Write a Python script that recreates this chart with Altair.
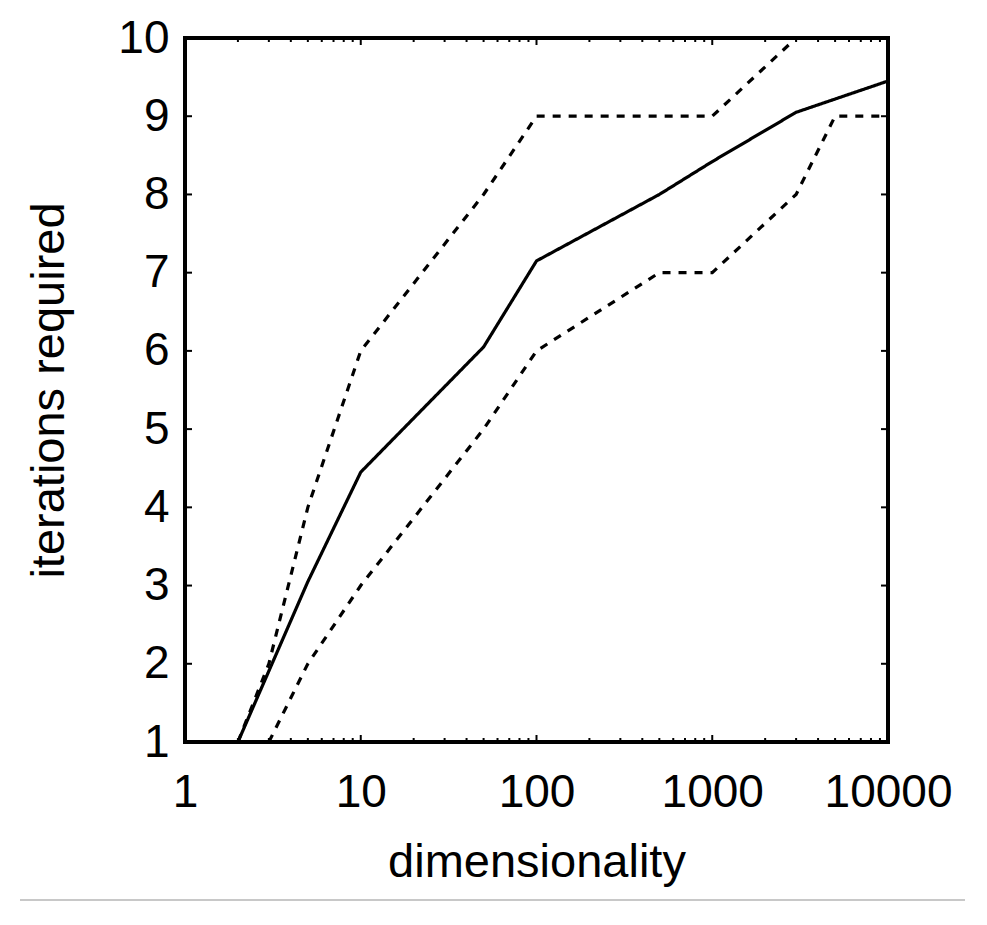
import pandas as pd
import altair as alt

# Mean number of iterations and its spread
mean_dims = [2, 5, 10, 50, 100, 500, 1000, 3000, 10000]
mean_iters = [1.0, 3.05, 4.45, 6.05, 7.15, 8.0, 8.42, 9.05, 9.45]

upper_dims = [2, 3, 5, 10, 50, 100, 1000, 3000, 10000]
upper_iters = [1, 2, 4, 6, 8, 9, 9, 10, 10]

lower_dims = [3, 5, 10, 50, 100, 500, 1000, 3000, 5000, 10000]
lower_iters = [1, 2, 3, 5, 6, 7, 7, 8, 9, 9]

# Tick positions (gnuplot style, drawn inward on all four sides)
x_labels = [1, 10, 100, 1000, 10000]
x_major = [10, 100, 1000]
x_minor = [m * d for d in [1, 10, 100, 1000] for m in range(2, 10)]
y_labels = [1, 2, 3, 4, 5, 6, 7, 8, 9, 10]
y_inner = [2, 3, 4, 5, 6, 7, 8, 9]

W, H = 703, 704
FONT = "Liberation Sans"

frames = []
for name, dims, iters in [("mean", mean_dims, mean_iters),
                          ("upper", upper_dims, upper_iters),
                          ("lower", lower_dims, lower_iters)]:
    frames.append(pd.DataFrame({"dim": dims, "iters": iters, "series": name}))
lines_df = pd.concat(frames, ignore_index=True)

x_scale = alt.Scale(type="log", domain=[1, 10000], nice=False)
y_scale = alt.Scale(domain=[1, 10], nice=False, zero=False)
x_axis = alt.Axis(values=x_labels, format="d", title="dimensionality",
                  labelFlush=False, labelPadding=28, titlePadding=24)
y_axis = alt.Axis(values=y_labels, format="d", title="iterations required",
                  labelFlush=False, labelPadding=16, titlePadding=44)

lines = alt.Chart(lines_df).mark_line(color="black", strokeWidth=3.2, clip=True).encode(
    x=alt.X("dim:Q", scale=x_scale, axis=x_axis),
    y=alt.Y("iters:Q", scale=y_scale, axis=y_axis),
    strokeDash=alt.StrokeDash("series:N",
                              scale=alt.Scale(domain=["mean", "upper", "lower"],
                                              range=[[1, 0], [8, 8], [8, 8]]),
                              legend=None),
    detail="series:N",
)

xmaj_df = pd.DataFrame({"dim": x_major})
xmin_df = pd.DataFrame({"dim": x_minor})
y_df = pd.DataFrame({"iters": y_inner})


def x_ticks(df, length, width):
    base = alt.Chart(df).mark_rule(color="black", strokeWidth=width)
    bottom = base.encode(x=alt.X("dim:Q", scale=x_scale, axis=x_axis),
                         y=alt.value(H), y2=alt.value(H - length))
    top = base.encode(x=alt.X("dim:Q", scale=x_scale, axis=x_axis),
                      y=alt.value(0), y2=alt.value(length))
    return bottom + top


base_y = alt.Chart(y_df).mark_rule(color="black", strokeWidth=2)
y_left = base_y.encode(y=alt.Y("iters:Q", scale=y_scale, axis=y_axis),
                       x=alt.value(0), x2=alt.value(7))
y_right = base_y.encode(y=alt.Y("iters:Q", scale=y_scale, axis=y_axis),
                        x=alt.value(W), x2=alt.value(W - 7))

# thin grey separator under the figure
separator = alt.Chart(y_df.head(1)).mark_rule(color="#c8c8c8", strokeWidth=2).encode(
    x=alt.value(-165), x2=alt.value(780), y=alt.value(862)
)

chart = alt.layer(
    lines,
    x_ticks(xmaj_df, 7, 2),
    x_ticks(xmin_df, 4, 2),
    y_left,
    y_right,
    separator,
).properties(
    width=W,
    height=H,
    autosize=alt.AutoSizeParams(type="none"),
    padding={"left": 177, "top": 30, "right": 80, "bottom": 170},
    background="white",
).configure_view(
    stroke="black",
    strokeWidth=4,
).configure_axis(
    grid=False,
    domain=False,
    ticks=False,
    labelFont=FONT,
    labelFontSize=46,
    labelColor="black",
    titleFont=FONT,
    titleFontSize=47,
    titleFontWeight="normal",
    titleColor="black",
)

chart.save("out.html", embed_options={"renderer": "svg", "actions": False})
